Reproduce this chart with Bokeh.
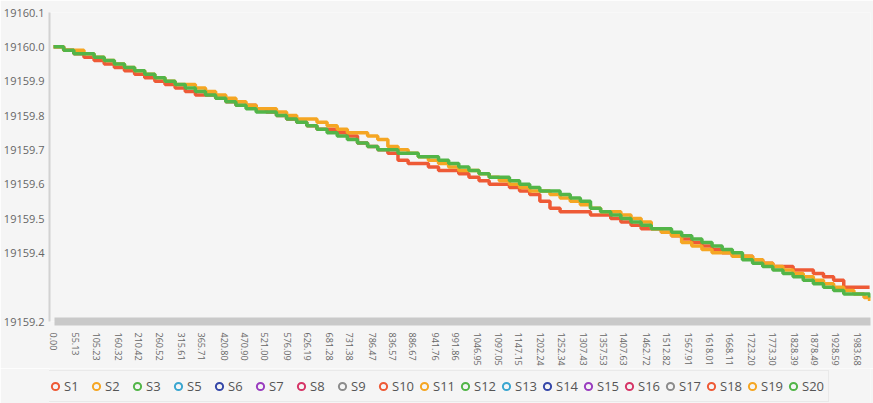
import math
from bokeh.plotting import figure
from bokeh.layouts import column
from bokeh.models import Range1d, FixedTicker, Legend, LegendItem
from bokeh.embed import file_html
from bokeh.resources import INLINE

# ---------------- data ----------------
x_tick_labels = ["0.00", "55.13", "105.23", "160.32", "210.42", "260.52", "315.61", "365.71",
                 "420.80", "470.90", "521.00", "576.09", "626.19", "681.28", "731.38", "786.47",
                 "836.57", "886.67", "941.76", "991.86", "1046.95", "1097.05", "1147.15", "1202.24",
                 "1252.34", "1307.43", "1357.53", "1407.63", "1462.72", "1512.82", "1567.91",
                 "1618.01", "1668.11", "1723.20", "1773.30", "1828.39", "1878.49", "1928.59",
                 "1983.68"]
x_ticks = [float(s) for s in x_tick_labels]

y_tick_labels = ["19159.2", "19159.4", "19159.5", "19159.6", "19159.7", "19159.8",
                 "19159.9", "19160.0", "19160.1"]
y_ticks = [float(s) for s in y_tick_labels]

x_samples = [0, 25, 50, 75, 100, 125, 150, 175, 200, 225, 250, 275, 300, 325, 350, 375,
             400, 425, 450, 475, 500, 525, 550, 575, 600, 625, 650, 675, 700, 725, 750, 775,
             800, 825, 850, 875, 900, 925, 950, 975, 1000, 1025, 1050, 1075, 1100, 1125, 1150,
             1175, 1200, 1225, 1250, 1275, 1300, 1325, 1350, 1375, 1400, 1425, 1450, 1475,
             1500, 1525, 1550, 1575, 1600, 1625, 1650, 1675, 1700, 1725, 1750, 1775, 1800,
             1825, 1850, 1875, 1900, 1925, 1950, 1975, 2000, 2013.7]

s1 = [19160.00, 19159.99, 19159.98, 19159.97, 19159.96, 19159.95, 19159.94, 19159.93, 19159.92, 19159.91,
      19159.90, 19159.89, 19159.88, 19159.87, 19159.86, 19159.86, 19159.85, 19159.84, 19159.83, 19159.83,
      19159.82, 19159.81, 19159.80, 19159.79, 19159.78, 19159.77, 19159.76, 19159.76, 19159.75, 19159.74,
      19159.72, 19159.71, 19159.70, 19159.69, 19159.67, 19159.66, 19159.66, 19159.65, 19159.64, 19159.64,
      19159.63, 19159.62, 19159.61, 19159.60, 19159.60, 19159.59, 19159.58, 19159.57, 19159.55, 19159.53,
      19159.52, 19159.52, 19159.52, 19159.51, 19159.51, 19159.50, 19159.49, 19159.48, 19159.47, 19159.47,
      19159.46, 19159.45, 19159.44, 19159.43, 19159.42, 19159.41, 19159.40, 19159.39, 19159.39, 19159.38,
      19159.37, 19159.36, 19159.36, 19159.35, 19159.35, 19159.34, 19159.33, 19159.32, 19159.30, 19159.30,
      19159.30, 19159.30]

s2 = [19160.00, 19159.99, 19159.99, 19159.98, 19159.97, 19159.96, 19159.95, 19159.94, 19159.93, 19159.92,
      19159.91, 19159.90, 19159.89, 19159.89, 19159.88, 19159.87, 19159.86, 19159.85, 19159.84, 19159.83,
      19159.82, 19159.82, 19159.81, 19159.80, 19159.79, 19159.79, 19159.78, 19159.77, 19159.76, 19159.75,
      19159.75, 19159.74, 19159.73, 19159.71, 19159.70, 19159.69, 19159.68, 19159.67, 19159.66, 19159.65,
      19159.64, 19159.64, 19159.63, 19159.62, 19159.61, 19159.60, 19159.59, 19159.58, 19159.58, 19159.57,
      19159.56, 19159.55, 19159.54, 19159.53, 19159.52, 19159.52, 19159.51, 19159.50, 19159.49, 19159.47,
      19159.46, 19159.45, 19159.43, 19159.42, 19159.41, 19159.40, 19159.40, 19159.39, 19159.39, 19159.38,
      19159.37, 19159.36, 19159.35, 19159.34, 19159.33, 19159.32, 19159.31, 19159.30, 19159.29, 19159.28,
      19159.27, 19159.26]

s3 = [19160.00, 19159.99, 19159.98, 19159.98, 19159.97, 19159.96, 19159.95, 19159.94, 19159.93, 19159.92,
      19159.91, 19159.90, 19159.89, 19159.88, 19159.87, 19159.86, 19159.85, 19159.84, 19159.83, 19159.82,
      19159.81, 19159.81, 19159.80, 19159.79, 19159.78, 19159.77, 19159.76, 19159.75, 19159.74, 19159.73,
      19159.72, 19159.71, 19159.70, 19159.70, 19159.69, 19159.69, 19159.68, 19159.68, 19159.67, 19159.66,
      19159.65, 19159.64, 19159.63, 19159.62, 19159.62, 19159.61, 19159.60, 19159.59, 19159.58, 19159.58,
      19159.57, 19159.56, 19159.55, 19159.53, 19159.52, 19159.51, 19159.50, 19159.49, 19159.48, 19159.47,
      19159.47, 19159.46, 19159.45, 19159.44, 19159.43, 19159.42, 19159.41, 19159.40, 19159.38, 19159.37,
      19159.36, 19159.35, 19159.34, 19159.33, 19159.32, 19159.31, 19159.30, 19159.29, 19159.28, 19159.28,
      19159.28, 19159.27]

series_names = ["S1", "S2", "S3", "S5", "S6", "S7", "S8", "S9", "S10", "S11", "S12", "S13",
                "S14", "S15", "S16", "S17", "S18", "S19", "S20"]
series_colors = ["#EE5A36", "#F5A623", "#52B548", "#3AA6D0", "#3547A8", "#9A3DBF", "#D63567",
                 "#8C8C8C", "#EE5A36", "#F5A623", "#52B548", "#3AA6D0", "#3547A8", "#9A3DBF",
                 "#D63567", "#8C8C8C", "#EE5A36", "#F5A623", "#52B548"]
series_data = {"S1": s1, "S2": s2, "S3": s3}

# ---------------- main figure ----------------
BG = "#F5F5F5"
FONT = "Open Sans"

p = figure(width=873, height=368, output_backend="svg", toolbar_location=None,
           x_range=Range1d(-10, 2016), y_range=Range1d(19159.2, 19160.1),
           background_fill_color=BG, border_fill_color=BG,
           min_border_top=12, min_border_right=3, min_border_bottom=0, min_border_left=5)
p.outline_line_color = None
p.xgrid.visible = False
p.ygrid.visible = False

# x axis
xa = p.xaxis[0]
xa.ticker = FixedTicker(ticks=x_ticks)
xa.major_label_overrides = {t: s for t, s in zip(x_ticks, x_tick_labels)}
xa.major_label_orientation = -math.pi / 2
xa.axis_line_color = "#C9C9C9"
xa.axis_line_width = 8
xa.bounds = (2, 2016)
xa.major_tick_line_color = None
xa.minor_tick_line_color = None
xa.major_tick_in = 0
xa.major_tick_out = 0
xa.major_label_standoff = 11
xa.major_label_text_font = FONT
xa.major_label_text_font_size = "9px"
xa.major_label_text_color = "#666666"

# y axis
ya = p.yaxis[0]
ya.ticker = FixedTicker(ticks=y_ticks)
ya.major_label_overrides = {t: s for t, s in zip(y_ticks, y_tick_labels)}
ya.axis_line_color = "#D2D2D2"
ya.axis_line_width = 2
ya.major_tick_line_color = None
ya.minor_tick_line_color = None
ya.major_tick_in = 0
ya.major_tick_out = 0
ya.major_label_standoff = 5
ya.major_label_text_font = FONT
ya.major_label_text_font_size = "11px"
ya.major_label_text_color = "#666666"

# lines (drawn red, orange, green so green is on top)
for name, color in zip(series_names, series_colors):
    if name in series_data:
        p.step(x_samples, series_data[name], mode="after", line_color=color, line_width=3.5)

# ---------------- legend strip ----------------
q = figure(width=873, height=35, output_backend="svg", toolbar_location=None,
           x_range=Range1d(0, 1), y_range=Range1d(0, 1),
           x_axis_location=None, y_axis_location=None,
           background_fill_color=BG, border_fill_color=BG, min_border=0)
q.outline_line_color = None
q.xgrid.visible = False
q.ygrid.visible = False

nan = float("nan")
items = []
for name, color in zip(series_names, series_colors):
    r = q.scatter(x=[nan], y=[nan], marker="circle", size=8, fill_color=BG,
                  line_color=color, line_width=2)
    items.append(LegendItem(label=name, renderers=[r]))

legend = Legend(items=items, orientation="horizontal", location=(-7, 1), nrows=1,
                glyph_width=18, glyph_height=24, label_standoff=0, label_width=23,
                spacing=0, padding=3, margin=0,
                label_text_font=FONT, label_text_font_size="13px",
                label_text_color="#555555",
                background_fill_color=BG, background_fill_alpha=1.0,
                border_line_color="#DDDDDD", border_line_width=1)
q.add_layout(legend, "center")

layout = column(p, q, spacing=0)
open("out.html", "w").write(file_html(layout, INLINE))
